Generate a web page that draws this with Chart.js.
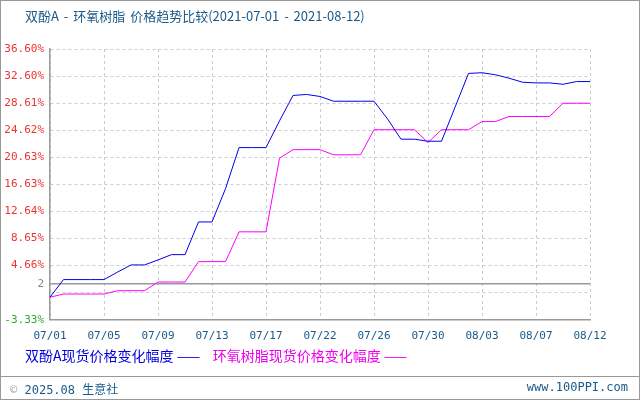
<!DOCTYPE html>
<html><head><meta charset="utf-8">
<script src="https://cdn.jsdelivr.net/npm/chart.js@4"></script>
<style>
body{margin:0;width:640px;height:400px;position:relative;background:#fff;font-family:"DejaVu Sans Mono",monospace;overflow:hidden}
#frame{position:absolute;left:0;top:0;width:638px;height:398px;border:1px solid #999}
#title{position:absolute;left:25px;top:6px;font-size:13px;color:#1a5a8a;font-family:"Noto Sans CJK SC","DejaVu Sans Mono";word-spacing:2px}
#legend{position:absolute;left:25px;top:345px;font-size:14px;font-family:"Noto Sans CJK SC";}
#foot{position:absolute;left:0;top:376px;width:640px;border-top:1px solid #999;height:23px;font-size:12px;color:#1a5a8a}
canvas{position:absolute;left:0;top:0}
</style></head><body>
<div id="frame"></div>
<canvas id="c" width="640" height="400"></canvas>
<div id="title">双酚A - 环氧树脂 价格趋势比较(2021-07-01 - 2021-08-12)</div>
<div id="legend"><span style="color:#0000dd">双酚A现货价格变化幅度 ——</span>&nbsp;&nbsp;&nbsp;&nbsp;<span style="color:#ee00ee">环氧树脂现货价格变化幅度 ——</span></div>
<div id="foot"><span style="position:absolute;left:10px;top:3px"><span style="color:#9ab">©</span> 2025.08 <span style="font-family:'Noto Sans CJK SC'">生意社</span></span><span style="position:absolute;right:12px;top:3px">www.100PPI.com</span></div>
<script>
const dates=["07/01","07/02","07/03","07/04","07/05","07/06","07/07","07/08","07/09","07/10","07/11","07/12","07/13","07/14","07/15","07/16","07/17","07/19","07/20","07/21","07/22","07/23","07/24","07/25","07/26","07/27","07/28","07/29","07/30","07/31","08/01","08/02","08/03","08/04","08/05","08/06","08/07","08/09","08/10","08/11","08/12"];
const bpaValues=[0,2.6,2.6,2.6,2.6,3.7,4.76,4.76,5.5,6.28,6.28,11.1,11.1,16,22.06,22.06,22.06,26,29.75,29.9,29.6,28.9,28.9,28.9,28.9,26.3,23.3,23.3,23.0,23.0,28,33.0,33.1,32.8,32.3,31.7,31.6,31.6,31.4,31.8,31.8];
const epoxyValues=[0,0.47,0.47,0.47,0.47,0.96,0.96,0.96,2.24,2.24,2.24,5.25,5.25,5.25,9.64,9.64,9.64,20.5,21.76,21.76,21.76,21.0,21.0,21.0,24.7,24.7,24.7,24.7,22.8,24.7,24.7,24.7,25.9,25.9,26.65,26.65,26.65,26.65,28.6,28.6,28.6];
const yTicks=[-3.33,0.67,2,4.66,8.65,12.64,16.63,20.63,24.62,28.61,32.60,36.60];
const yLabels=["-3.33%","","2","4.66%","8.65%","12.64%","16.63%","20.63%","24.62%","28.61%","32.60%","36.60%"];
new Chart(document.getElementById('c'),{type:'line',
data:{labels:dates,datasets:[
{data:bpaValues,borderColor:'#0000ee',borderWidth:1,pointRadius:0,tension:0},
{data:epoxyValues,borderColor:'#ff00ff',borderWidth:1,pointRadius:0,tension:0}]},
options:{responsive:false,animation:false,events:[],
layout:{padding:{left:0,right:50,top:49,bottom:47}},
plugins:{legend:{display:false},tooltip:{enabled:false}},
scales:{
x:{grid:{color:'#ccc',drawTicks:false},border:{color:'#999',width:1.5,dash:[3,3]},
 ticks:{autoSkip:false,maxRotation:0,padding:10,color:'#1a5a8a',font:{family:'DejaVu Sans Mono',size:11},
 callback:(v,i)=>i%4===0?dates[i]:null}},
y:{min:-3.33,max:36.60,afterBuildTicks:a=>{a.ticks=yTicks.map(v=>({value:v}))},
 grid:{color:c=>c.tick&&c.tick.value===2?'#999':'#ccc',lineWidth:c=>c.tick&&c.tick.value===2?1.5:1,drawTicks:false},
 border:{color:'#999',width:1.5,dash:c=>c.tick&&c.tick.value===2?[]:[3,3]},
 afterFit:s=>{s.width=50},
 ticks:{padding:6,font:{family:'DejaVu Sans Mono',size:11},
 color:c=>c.tick.value===2?'#888':(c.tick.value<0?'#33aa33':'#ee3333'),
 callback:(v,i)=>yLabels[i]}}}}});
</script></body></html>
